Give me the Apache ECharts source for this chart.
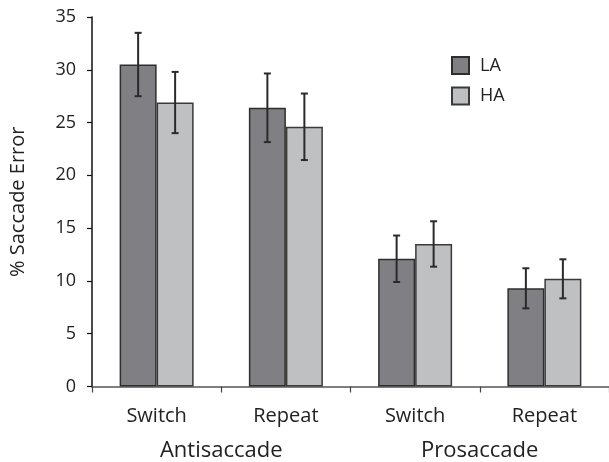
<!DOCTYPE html>
<html>
<head>
<meta charset="utf-8">
<script src="https://cdn.jsdelivr.net/npm/echarts@6/dist/echarts.min.js"></script>
<style>html,body{margin:0;padding:0;background:#fff}#c{width:609px;height:462px}</style>
</head>
<body>
<div id="c"></div>
<script>
var categories = ['Switch', 'Repeat', 'Switch', 'Repeat'];
var groups = ['Antisaccade', 'Prosaccade'];
var seriesNames = ['LA', 'HA'];
var laValues = [30.5, 26.4, 12.1, 9.3];
var haValues = [26.9, 24.6, 13.5, 10.2];
var laErr = [3.0, 3.25, 2.2, 1.9];
var haErr = [2.9, 3.15, 2.15, 1.85];
var yTicks = [0, 5, 10, 15, 20, 25, 30, 35];

var FONT = 'Open Sans';
var BAR_W = 37;

function errData(vals, errs) {
  return vals.map(function (v, i) { return [i, v, errs[i]]; });
}
function errSeries(vals, errs, offset) {
  return {
    type: 'custom',
    xAxisIndex: 0,
    z: 10,
    silent: true,
    data: errData(vals, errs),
    renderItem: function (params, api) {
      var i = api.value(0), v = api.value(1), e = api.value(2);
      var top = api.coord([i, v + e]);
      var bot = api.coord([i, v - e]);
      var x = top[0] + offset;
      var style = { stroke: '#2a2a2a', lineWidth: 2 };
      return {
        type: 'group',
        children: [
          { type: 'line', shape: { x1: x, y1: top[1], x2: x, y2: bot[1] }, style: style },
          { type: 'line', shape: { x1: x - 3.5, y1: top[1], x2: x + 3.5, y2: top[1] }, style: style },
          { type: 'line', shape: { x1: x - 3.5, y1: bot[1], x2: x + 3.5, y2: bot[1] }, style: style }
        ]
      };
    }
  };
}

var chart = echarts.init(document.getElementById('c'), null, { renderer: 'canvas' });
chart.setOption({
  animation: false,
  backgroundColor: '#fff',
  grid: { left: 91, top: 17, width: 521, height: 369.5, containLabel: false },
  legend: {
    data: seriesNames,
    orient: 'vertical',
    left: 446,
    top: 51,
    itemWidth: 17,
    itemHeight: 17,
    itemGap: 11.5,
    icon: 'rect',
    textStyle: { fontFamily: FONT, fontSize: 18, color: '#222', padding: [0, 0, 0, 6] }
  },
  xAxis: [
    {
      type: 'category',
      data: categories,
      position: 'bottom',
      axisLine: { show: true, lineStyle: { color: '#555', width: 1.5 } },
      axisTick: { show: true, length: 6, alignWithLabel: false, lineStyle: { color: '#444', width: 1.2 } },
      axisLabel: { fontFamily: FONT, fontSize: 20, color: '#222', margin: 20, interval: 0 }
    },
    {
      type: 'category',
      data: groups,
      position: 'bottom',
      axisLine: { show: false },
      axisTick: { show: false },
      axisLabel: { fontFamily: FONT, fontSize: 22, color: '#222', margin: 53, interval: 0 }
    }
  ],
  yAxis: {
    type: 'value',
    min: yTicks[0],
    max: yTicks[yTicks.length - 1],
    interval: 5,
    name: '% Saccade Error',
    nameLocation: 'middle',
    nameGap: 64,
    nameTextStyle: { fontFamily: FONT, fontSize: 20, color: '#222' },
    axisLine: { show: true, lineStyle: { color: '#111', width: 1.5 } },
    axisTick: { show: true, length: 5, lineStyle: { color: '#111', width: 1.2 } },
    axisLabel: { fontFamily: FONT, fontSize: 18, color: '#222', margin: 16 },
    splitLine: { show: false }
  },
  series: [
    {
      name: seriesNames[0],
      type: 'bar',
      data: laValues,
      barWidth: BAR_W,
      barGap: '0%',
      itemStyle: { color: '#808084', borderColor: '#2e2e2e', borderWidth: 1.5 }
    },
    {
      name: seriesNames[1],
      type: 'bar',
      data: haValues,
      barWidth: BAR_W,
      barGap: '0%',
      itemStyle: { color: '#bfc0c2', borderColor: '#3a3a3a', borderWidth: 1.5 }
    },
    errSeries(laValues, laErr, -BAR_W / 2),
    errSeries(haValues, haErr, BAR_W / 2)
  ]
});
</script>
</body>
</html>
